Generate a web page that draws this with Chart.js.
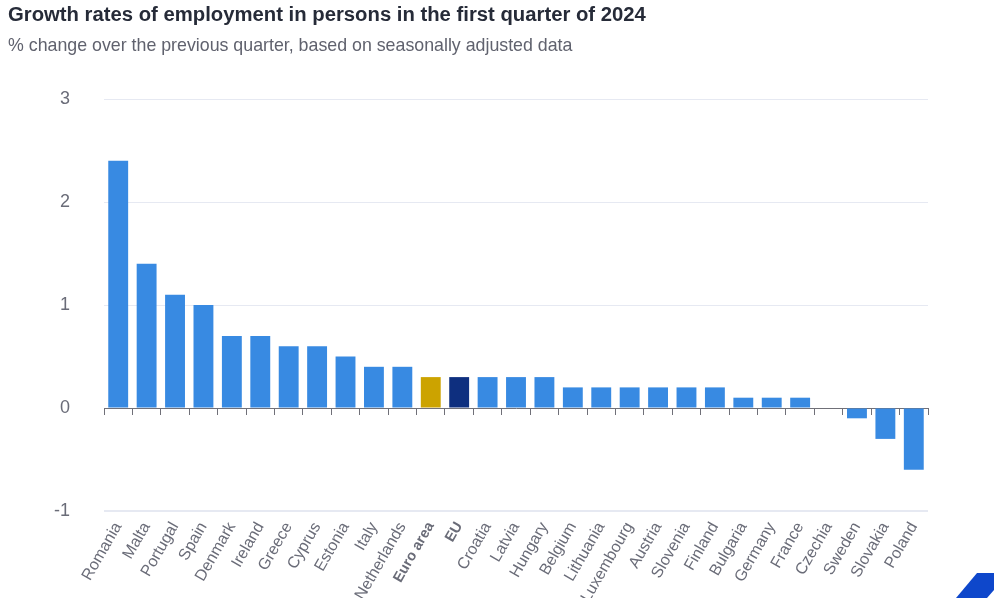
<!DOCTYPE html>
<html lang="en">
<head>
<meta charset="utf-8">
<title>Growth rates of employment</title>
<script src="https://cdn.jsdelivr.net/npm/chart.js@4/dist/chart.umd.min.js"></script>
<style>
    html, body { margin: 0; padding: 0; background: #fff; overflow: hidden; }
    #page { position: relative; width: 994px; height: 598px; font-family: "Liberation Sans", Arial, sans-serif; }
    #titre { position: absolute; left: 8px; top: 3px; font-size: 20.3px; font-weight: bold; color: #262b38; white-space: nowrap; }
    #sous-titre { position: absolute; left: 8px; top: 35px; font-size: 17.8px; color: #60626e; white-space: nowrap; }
    #graphique { position: absolute; left: 0; top: 0; }
    #logo { position: absolute; left: 955px; top: 573px; width: 39px; height: 25px; background: #0e47cb;
            clip-path: polygon(1px 25px, 22px 0, 39px 0, 39px 17px, 32px 25px); }
</style>
</head>
<body>
<div id="page">
    <canvas id="graphique" width="994" height="598"></canvas>
    <div id="titre">Growth rates of employment in persons in the first quarter of 2024</div>
    <div id="sous-titre">% change over the previous quarter, based on seasonally adjusted data</div>
    <div id="logo"></div>
</div>
<script>
const CATEGORIES = ['Romania', 'Malta', 'Portugal', 'Spain', 'Denmark', 'Ireland', 'Greece', 'Cyprus',
    'Estonia', 'Italy', 'Netherlands', 'Euro area', 'EU', 'Croatia', 'Latvia', 'Hungary', 'Belgium',
    'Lithuania', 'Luxembourg', 'Austria', 'Slovenia', 'Finland', 'Bulgaria', 'Germany', 'France',
    'Czechia', 'Sweden', 'Slovakia', 'Poland'];
const VALEURS = [2.4, 1.4, 1.1, 1.0, 0.7, 0.7, 0.6, 0.6, 0.5, 0.4, 0.4, 0.3, 0.3, 0.3, 0.3, 0.3, 0.2,
    0.2, 0.2, 0.2, 0.2, 0.2, 0.1, 0.1, 0.1, 0, -0.1, -0.3, -0.6];
const TICKS_Y = [3, 2, 1, 0, -1];

const COULEUR_BARRE = '#388ae2';
const COULEUR_EURO  = '#cca300';
const COULEUR_UE    = '#0e2f7f';
const COULEUR_GRILLE = '#e6e9f2';
const COULEUR_AXE   = '#707078';
const COULEUR_TEXTE = '#6a6c78';
const POLICE = '"Liberation Sans", Arial, sans-serif';

function couleurBarre(categorie) {
    if (categorie === 'Euro area') return COULEUR_EURO;
    if (categorie === 'EU') return COULEUR_UE;
    return COULEUR_BARRE;
}

function creerGraphique() {
    new Chart(document.getElementById('graphique'), {
        type: 'bar',
        data: {
            labels: CATEGORIES,
            datasets: [{
                data: VALEURS,
                backgroundColor: CATEGORIES.map(couleurBarre),
                barPercentage: 0.7,
                categoryPercentage: 1
            }]
        },
        options: {
            responsive: false,
            animation: false,
            layout: { padding: { top: 99, right: 66, bottom: 0, left: 0 } },
            plugins: { legend: { display: false }, tooltip: { enabled: false } },
            scales: {
                x: {
                    type: 'category',
                    position: 'bottom',
                    offset: true,
                    afterFit: function (scale) { scale.height = 87; },
                    grid: { display: false },
                    border: { display: false },
                    ticks: {
                        autoSkip: false,
                        minRotation: 60,
                        maxRotation: 60,
                        padding: 0,
                        color: COULEUR_TEXTE,
                        font: function (ctx) {
                            const categorie = CATEGORIES[ctx.index];
                            const gras = categorie === 'Euro area' || categorie === 'EU';
                            return { family: POLICE, size: gras ? 14.5 : 16, weight: gras ? 'bold' : 'normal' };
                        }
                    }
                },
                // Axe sans libellés, posé sur le zéro, pour la ligne et ses graduations
                axeZero: {
                    type: 'category',
                    axis: 'x',
                    position: { y: 0 },
                    offset: true,
                    grid: { drawOnChartArea: false, drawTicks: true, tickLength: 6, color: COULEUR_AXE, offset: true },
                    border: { display: true, color: COULEUR_AXE, width: 1 },
                    ticks: { display: false, autoSkip: false }
                },
                y: {
                    min: -1,
                    max: 3,
                    afterFit: function (scale) { scale.width = 104; },
                    afterBuildTicks: function (scale) { scale.ticks = TICKS_Y.map(function (v) { return { value: v }; }); },
                    grid: {
                        color: COULEUR_GRILLE,
                        drawTicks: false,
                        // La ligne du bas est plus épaisse que les autres
                        lineWidth: function (ctx) { return ctx.tick && ctx.tick.value === -1 ? 2 : 1; }
                    },
                    border: { display: false },
                    ticks: {
                        padding: 34,
                        color: COULEUR_TEXTE,
                        font: { family: POLICE, size: 18 }
                    }
                }
            }
        }
    });
}

document.addEventListener('DOMContentLoaded', creerGraphique);
</script>
</body>
</html>
